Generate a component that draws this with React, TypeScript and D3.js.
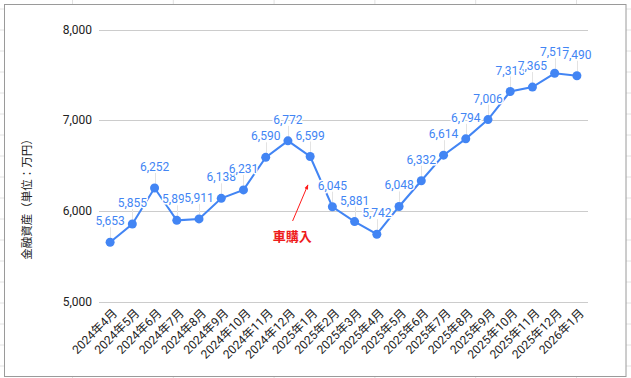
import React from "react";
import * as d3 from "d3";

const categories = [
  "2024年4月", "2024年5月", "2024年6月", "2024年7月", "2024年8月", "2024年9月",
  "2024年10月", "2024年11月", "2024年12月", "2025年1月", "2025年2月", "2025年3月",
  "2025年4月", "2025年5月", "2025年6月", "2025年7月", "2025年8月", "2025年9月",
  "2025年10月", "2025年11月", "2025年12月", "2026年1月",
];
const values = [
  5653, 5855, 6252, 5895, 5911, 6138, 6231, 6590, 6772, 6599, 6045, 5881,
  5742, 6048, 6332, 6614, 6794, 7006, 7316, 7365, 7517, 7490,
];
const yTicks = [5000, 6000, 7000, 8000];
const yTitle = "金融資産（単位：万円）";
const annotationText = "車購入";
// annotation in data space: [category index, value]
const annotationLabel = [8.2, 5722];
const annotationTail = [8.21, 5888];
const annotationTip = [8.9, 6286];

const W = 631;
const H = 378;
const FONT = "Roboto, 'Noto Sans CJK JP', sans-serif";
const BLUE = "#4285F4";

export default function App() {
  const x = d3.scalePoint<string>().domain(categories).range([99, 588]).padding(0.5);
  const y = d3.scaleLinear().domain([5000, 8000]).range([301.5, 29.5]);
  const xi = d3
    .scaleLinear()
    .domain([0, categories.length - 1])
    .range([x(categories[0])!, x(categories[categories.length - 1])!]);

  const pts = categories.map((c, i) => ({ c, v: values[i], px: x(c)!, py: y(values[i]) }));
  const line = d3
    .line<{ px: number; py: number }>()
    .x((d) => d.px)
    .y((d) => d.py);

  const sheetCols = d3.range(0, 7).map((k) => 72.5 + 100.8 * k);
  const sheetRows = d3.range(0, 18).map((k) => 9 + 21 * k);

  const fmt = d3.format(",");

  const tailX = xi(annotationTail[0]);
  const tailY = y(annotationTail[1]);
  const tipX = xi(annotationTip[0]);
  const tipY = y(annotationTip[1]);

  return (
    <svg
      width={W}
      height={H}
      style={{ position: "fixed", left: 0, top: 0, background: "#fff" }}
      fontFamily={FONT}
    >
      <defs>
        <marker id="ah" viewBox="0 0 10 10" refX="9" refY="5" markerWidth="5" markerHeight="5" orient="auto">
          <path d="M0,1 L10,5 L0,9 z" fill="#ff1a1a" />
        </marker>
      </defs>
      {/* spreadsheet background grid */}
      {sheetCols.map((cx, i) => (
        <line key={"sc" + i} x1={cx} x2={cx} y1={0} y2={H} stroke="#e2e2e2" strokeWidth={1} />
      ))}
      {sheetRows.map((ry, i) => (
        <line key={"sr" + i} x1={0} x2={W} y1={ry} y2={ry} stroke="#e2e2e2" strokeWidth={1} />
      ))}
      {/* chart frame */}
      <rect x={4.5} y={4.5} width={621.5} height={372} fill="#fff" stroke="#9a9a9a" strokeWidth={1} />

      {/* gridlines */}
      {yTicks.map((t) => (
        <g key={t}>
          <line x1={99} x2={588} y1={Math.round(y(t)) + 0.5} y2={Math.round(y(t)) + 0.5} stroke="#cccccc" />
          <text x={92} y={y(t)} dy="0.35em" textAnchor="end" fontSize={12} fill="#222">
            {fmt(t)}
          </text>
        </g>
      ))}

      {/* y title */}
      <text
        transform={`translate(31,196.5) rotate(-90)`}
        textAnchor="middle"
        fontSize={11.5}
        fill="#222"
      >
        {yTitle}
      </text>

      {/* x labels */}
      {categories.map((c) => (
        <text
          key={c}
          transform={`translate(${x(c)! + 5},${311}) rotate(-45)`}
          textAnchor="end"
          dy="0.35em"
          fontSize={12}
          fill="#222"
        >
          {c}
        </text>
      ))}

      {/* leader lines */}
      {pts.map((p) => (
        <line key={"ll" + p.c} x1={Math.round(p.px) + 0.5} x2={Math.round(p.px) + 0.5} y1={p.py - 15} y2={p.py - 4} stroke="#e3e3e3" />
      ))}

      {/* line */}
      <path d={line(pts) || ""} fill="none" stroke={BLUE} strokeWidth={2} />
      {pts.map((p) => (
        <circle key={"pt" + p.c} cx={p.px} cy={p.py} r={4.5} fill={BLUE} />
      ))}

      {/* data labels */}
      {pts.map((p) => (
        <text
          key={"lb" + p.c}
          x={p.px}
          y={p.py - 17}
          textAnchor="middle"
          fontSize={12}
          fill={BLUE}
          stroke="#fff"
          strokeWidth={3}
          strokeLinejoin="round"
          style={{ paintOrder: "stroke" }}
        >
          {fmt(p.v)}
        </text>
      ))}

      {/* annotation */}
      <line x1={tailX} y1={tailY} x2={tipX} y2={tipY} stroke="#ff1a1a" strokeWidth={1} markerEnd="url(#ah)" />
      <text
        x={xi(annotationLabel[0])}
        y={y(annotationLabel[1])}
        dy="0.35em"
        textAnchor="middle"
        fontSize={13}
        fontWeight="bold"
        fill="#ee1c1c"
      >
        {annotationText}
      </text>
    </svg>
  );
}
